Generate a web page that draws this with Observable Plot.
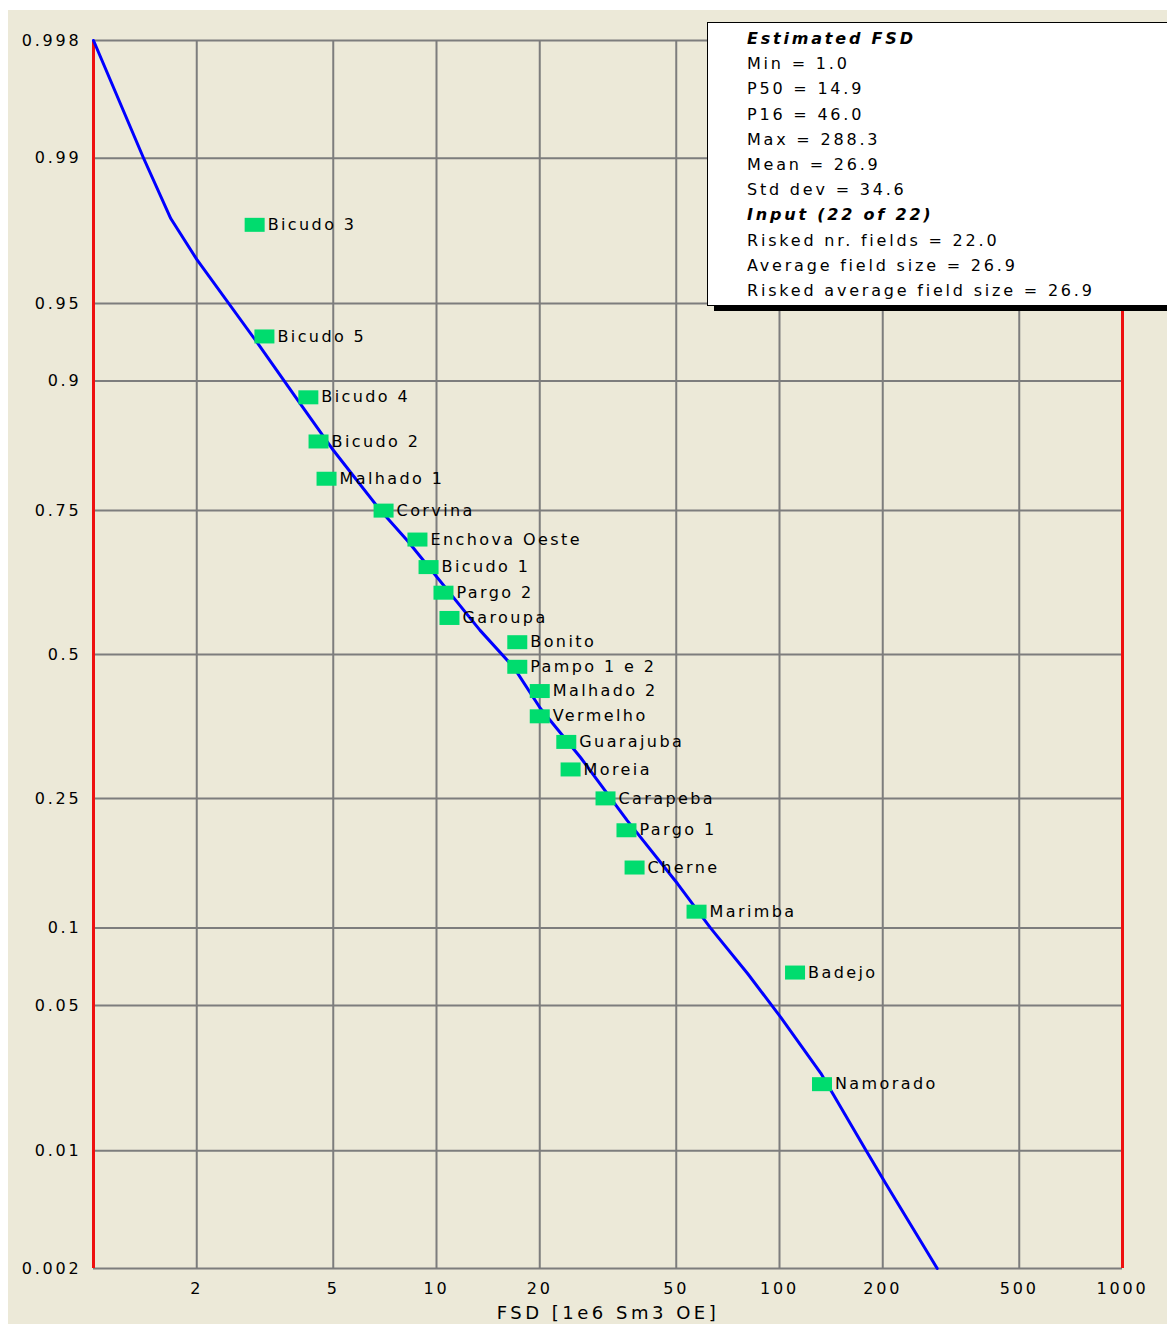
<!DOCTYPE html>
<html>
<head>
<meta charset="utf-8">
<script src="https://cdn.jsdelivr.net/npm/d3@7"></script>
<script src="https://cdn.jsdelivr.net/npm/@observablehq/plot@0.6"></script>
<style>
  html, body { margin: 0; padding: 0; background: #fff; overflow: hidden; }
  body { width: 1167px; height: 1324px; position: relative; font-family: "DejaVu Sans", sans-serif; }
  #wrap { position: absolute; left: 8px; top: 10px; width: 1159px; height: 1314px; background: #ECE9D8; }
  #wrap svg { display: block; }
  #legend {
    position: absolute; left: 699px; top: 12px; width: 470px; height: 284px;
    background: #fff; border: 1px solid #000; box-shadow: 7px 5px 0 #000;
    box-sizing: border-box; padding: 3px 0 0 39px;
    font-size: 16px; letter-spacing: 2.8px; line-height: 25.2px; color: #000; white-space: nowrap;
  }
  #legend .h { font-weight: bold; font-style: italic; }
</style>
</head>
<body>
<div id="wrap"><div id="legend"></div></div>
<script>
// ---- data ----
const fieldNames = ["Bicudo 3","Bicudo 5","Bicudo 4","Bicudo 2","Malhado 1","Corvina","Enchova Oeste","Bicudo 1","Pargo 2","Garoupa","Bonito","Pampo 1 e 2","Malhado 2","Vermelho","Guarajuba","Moreia","Carapeba","Pargo 1","Cherne","Marimba","Badejo","Namorado"];
const fieldFSD = [2.95, 3.15, 4.23, 4.53, 4.78, 7.01, 8.80, 9.48, 10.48, 10.91, 17.2, 17.2, 20.0, 20.0, 23.9, 24.6, 31.1, 35.8, 37.8, 57.3, 111, 133];
const fieldProb = [0.978, 0.932, 0.886, 0.841, 0.795, 0.750, 0.705, 0.659, 0.614, 0.568, 0.523, 0.477, 0.432, 0.386, 0.341, 0.295, 0.250, 0.205, 0.159, 0.114, 0.068, 0.022];

const curveFSD = [1.0, 1.40, 1.68, 2.00, 2.97, 4.01, 5.01, 6.87, 8.23, 13.4, 16.8, 20.1, 26.3, 36.0, 50.4, 62.9, 80.7, 101, 132, 179, 204, 288.3];
const curveProb = [0.998, 0.990, 0.9795, 0.968, 0.9295, 0.880, 0.8305, 0.750, 0.703, 0.545, 0.476, 0.400, 0.3146, 0.218, 0.1415, 0.100, 0.0674, 0.0444, 0.0248, 0.0100, 0.00657, 0.002];

const yTickProbs = [0.998, 0.99, 0.95, 0.9, 0.75, 0.5, 0.25, 0.1, 0.05, 0.01, 0.002];
const yTickLabels = ["0.998", "0.99", "0.95", "0.9", "0.75", "0.5", "0.25", "0.1", "0.05", "0.01", "0.002"];
const xTicks = [2, 5, 10, 20, 50, 100, 200, 500, 1000];
const xTickLabels = ["2", "5", "10", "20", "50", "100", "200", "500", "1000"];
const xGridValues = [2, 5, 10, 20, 50, 100, 200, 500];
const limitValues = [1, 1000];
const xLabel = "FSD [1e6 Sm3 OE]";

const legendLines = [
  ["Estimated FSD", true], ["Min = 1.0", false], ["P50 = 14.9", false], ["P16 = 46.0", false],
  ["Max = 288.3", false], ["Mean = 26.9", false], ["Std dev = 34.6", false],
  ["Input (22 of 22)", true], ["Risked nr. fields = 22.0", false],
  ["Average field size = 26.9", false], ["Risked average field size = 26.9", false]
];

// ---- probability (normal quantile) transform ----
function probit(p) {
  const a = [-3.969683028665376e+01, 2.209460984245205e+02, -2.759285104469687e+02, 1.383577518672690e+02, -3.066479806614716e+01, 2.506628277459239e+00];
  const b = [-5.447609879822406e+01, 1.615858368580409e+02, -1.556989798598866e+02, 6.680131188771972e+01, -1.328068155288572e+01];
  const c = [-7.784894002430293e-03, -3.223964580411365e-01, -2.400758277161838e+00, -2.549671010229528e+00, 4.374664141464968e+00, 2.938163982698783e+00];
  const d = [7.784695709041462e-03, 3.224671290700398e-01, 2.445134137142996e+00, 3.754408661907416e+00];
  const pl = 0.02425, ph = 1 - pl;
  let q, r;
  if (p < pl) {
    q = Math.sqrt(-2 * Math.log(p));
    return (((((c[0]*q+c[1])*q+c[2])*q+c[3])*q+c[4])*q+c[5]) / ((((d[0]*q+d[1])*q+d[2])*q+d[3])*q+1);
  }
  if (p <= ph) {
    q = p - 0.5; r = q * q;
    return (((((a[0]*r+a[1])*r+a[2])*r+a[3])*r+a[4])*r+a[5])*q / (((((b[0]*r+b[1])*r+b[2])*r+b[3])*r+b[4])*r+1);
  }
  q = Math.sqrt(-2 * Math.log(1 - p));
  return -(((((c[0]*q+c[1])*q+c[2])*q+c[3])*q+c[4])*q+c[5]) / ((((d[0]*q+d[1])*q+d[2])*q+d[3])*q+1);
}

const fields = fieldNames.map((name, i) => ({name, x: fieldFSD[i], p: fieldProb[i]}));
const curve = curveFSD.map((x, i) => ({x, p: curveProb[i]}));
const yTickZ = yTickProbs.map(probit);
const zLabel = new Map(yTickZ.map((z, i) => [z, yTickLabels[i]]));
const xLabelMap = new Map(xTicks.map((v, i) => [v, xTickLabels[i]]));

const rectSymbol = { draw(ctx) { ctx.rect(-10, -7, 20, 14); } };

const chart = Plot.plot({
  width: 1159,
  height: 1314,
  marginLeft: 85,
  marginRight: 45,
  marginTop: 30,
  marginBottom: 56,
  style: {background: "#ECE9D8", fontFamily: "DejaVu Sans, sans-serif", fontSize: "16px", color: "#000", letterSpacing: "2.4px", overflow: "visible"},
  x: {type: "log", domain: [1, 1000]},
  y: {domain: [probit(0.002), probit(0.998)]},
  marks: [
    Plot.gridX(xGridValues, {stroke: "#7d7d7d", strokeOpacity: 1, strokeWidth: 2}),
    Plot.gridY(yTickZ, {stroke: "#7d7d7d", strokeOpacity: 1, strokeWidth: 2}),
    Plot.ruleX(limitValues, {stroke: "#ee1010", strokeWidth: 3}),
    Plot.line(curve, {x: "x", y: d => probit(d.p), stroke: "#0000ff", strokeWidth: 3}),
    Plot.dot(fields, {x: "x", y: d => probit(d.p), symbol: rectSymbol, fill: "#00DC6E", r: 5}),
    Plot.text(fields, {x: "x", y: d => probit(d.p), text: "name", dx: 13, textAnchor: "start", fontSize: 16, fill: "#000"}),
    Plot.axisY(yTickZ, {tickSize: 0, tickPadding: 12, fontSize: 16, text: z => zLabel.get(z), label: null}),
    Plot.axisX(xTicks, {tickSize: 0, tickPadding: 14, fontSize: 16, text: v => xLabelMap.get(v),
      label: xLabel, labelAnchor: "center", labelArrow: "none", labelOffset: 50})
  ]
});
document.getElementById("wrap").prepend(chart);

// x-axis title styling
chart.querySelectorAll("[aria-label='x-axis label'] text").forEach(t => {
  t.setAttribute("font-size", "18"); t.style.letterSpacing = "3.5px";
});
chart.querySelectorAll("[aria-label='x-axis tick label'] text, [aria-label='y-axis tick label'] text").forEach(t => {
  t.style.letterSpacing = "2.8px";
});

const legend = document.getElementById("legend");
legendLines.forEach(([t, h]) => {
  const div = document.createElement("div");
  div.textContent = t;
  if (h) div.className = "h";
  legend.appendChild(div);
});
</script>
</body>
</html>
